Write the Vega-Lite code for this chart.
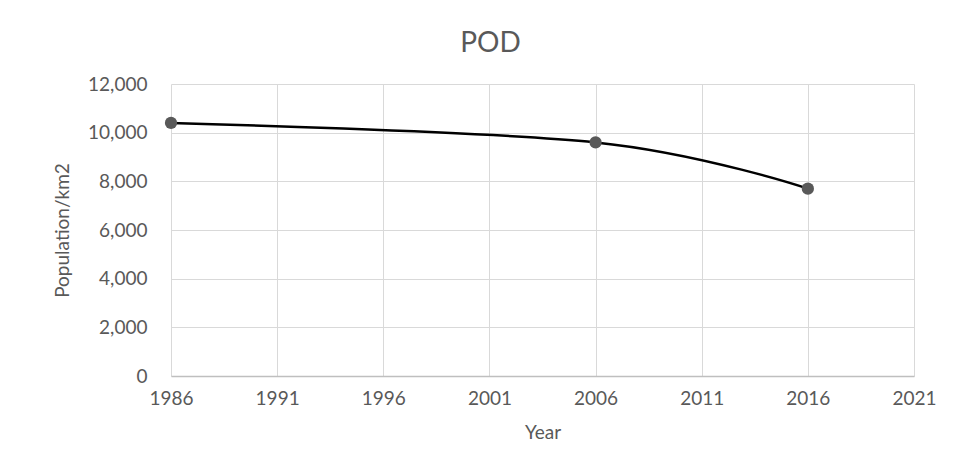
{
  "$schema": "https://vega.github.io/schema/vega-lite/v6.json",
  "autosize": "none",
  "width": 743,
  "height": 292,
  "padding": {"left": 171, "top": 84, "right": 42, "bottom": 95},
  "background": "white",
  "title": {"text": "POD", "font": "Lato", "fontSize": 28, "fontWeight": "normal", "color": "#595959", "anchor": "middle", "dx": -52, "offset": 17},
  "config": {
    "view": {"stroke": null},
    "axis": {"labelFont": "Lato", "titleFont": "Lato", "labelColor": "#595959", "titleColor": "#595959", "labelFontSize": 19, "titleFontSize": 19, "titleFontWeight": "normal", "gridColor": "#d9d9d9", "gridWidth": 1, "ticks": false, "labelFlush": false}
  },
  "data": {"values": [
    {"Year": 1986, "Density": 10400},
    {"Year": 2006, "Density": 9600},
    {"Year": 2016, "Density": 7700}
  ]},
  "encoding": {
    "x": {"field": "Year", "type": "quantitative", "scale": {"domain": [1986, 2021], "nice": false, "zero": false},
      "axis": {"values": [1986, 1991, 1996, 2001, 2006, 2011, 2016, 2021], "format": "d", "title": "Year", "labelPadding": 13, "titlePadding": 15, "domainColor": "#bfbfbf", "domainWidth": 1.5}},
    "y": {"field": "Density", "type": "quantitative", "scale": {"domain": [0, 12000], "nice": false},
      "axis": {"values": [0, 2000, 4000, 6000, 8000, 10000, 12000], "format": ",d", "title": "Population/km2", "labelPadding": 24, "titlePadding": 15, "domain": false}}
  },
  "layer": [
    {"mark": {"type": "line", "interpolate": "cardinal", "color": "black", "strokeWidth": 2.5}},
    {"mark": {"type": "point", "filled": true, "color": "#595959", "opacity": 1, "size": 150}}
  ]
}
